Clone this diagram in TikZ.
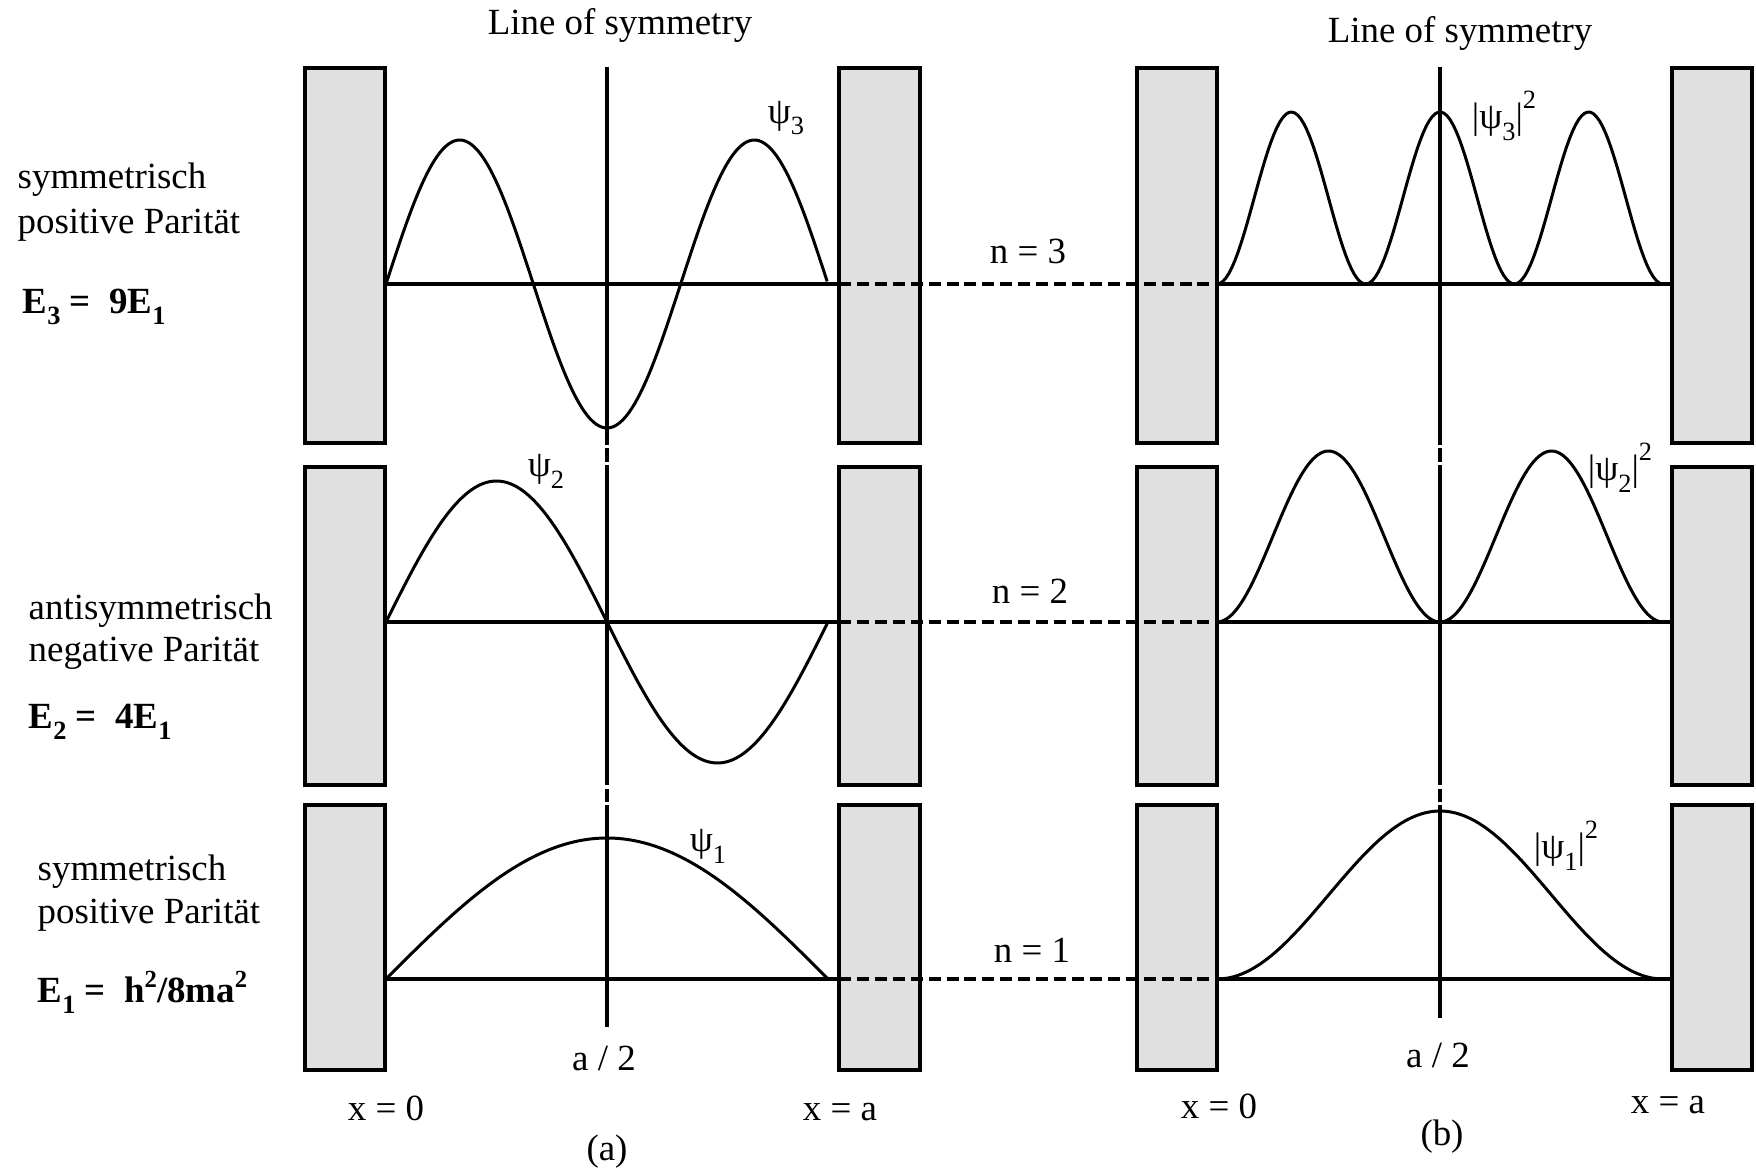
\documentclass[tikz,border=0pt]{standalone}
\usepackage{fontspec}
\setmainfont{Liberation Serif}
\usepackage{xcolor}
\usepackage{tikz}
\definecolor{wallc}{HTML}{E0E0E0}
\newcommand{\lowsub}[1]{\raisebox{-0.32em}{\fontsize{7.5}{8}\selectfont #1}}
\newcommand{\highsup}[1]{\raisebox{0.55em}{\fontsize{7.5}{8}\selectfont #1}}
\newcommand{\midsup}[1]{\raisebox{0.4em}{\fontsize{7}{8}\selectfont #1}}
\tikzset{
  wallbox/.style={draw=black, fill=wallc, line width=1.3pt},
  axisline/.style={draw=black, line width=1.1pt},
  levelline/.style={draw=black, line width=1.1pt, dash pattern=on 3.4pt off 1.7pt},
  symline/.style={draw=black, line width=1.1pt},
  wavecurve/.style={draw=black, line width=0.85pt, line join=round},
  labeltext/.style={inner sep=0pt, font=\fontsize{10.5}{12}\selectfont},
  edgetext/.style={labeltext, anchor=base west},
  energytext/.style={labeltext, anchor=base west, font=\fontsize{10.5}{12}\selectfont\bfseries},
}

\begin{document}
\begin{tikzpicture}[x=0.1mm, y=-0.1mm]
  \useasboundingbox (0,0) rectangle (1756,1171);
  \draw[wallbox] (305,68) rectangle (385,443);
  \draw[wallbox] (305,467) rectangle (385,785);
  \draw[wallbox] (305,805) rectangle (385,1070);
  \draw[wallbox] (839,68) rectangle (920,443);
  \draw[wallbox] (839,467) rectangle (920,785);
  \draw[wallbox] (839,805) rectangle (920,1070);
  \draw[wallbox] (1137,68) rectangle (1217,443);
  \draw[wallbox] (1137,467) rectangle (1217,785);
  \draw[wallbox] (1137,805) rectangle (1217,1070);
  \draw[wallbox] (1672,68) rectangle (1752,443);
  \draw[wallbox] (1672,467) rectangle (1752,785);
  \draw[wallbox] (1672,805) rectangle (1752,1070);

  \draw[symline] (607,67) -- (607,445);
  \draw[symline] (607,448) -- (607,462);
  \draw[symline] (607,465) -- (607,785);
  \draw[symline] (607,789) -- (607,802);
  \draw[symline] (607,805) -- (607,1027);
  \draw[symline] (1440,67) -- (1440,445);
  \draw[symline] (1440,448) -- (1440,462);
  \draw[symline] (1440,465) -- (1440,785);
  \draw[symline] (1440,789) -- (1440,802);
  \draw[symline] (1440,805) -- (1440,1018);

  \draw[axisline] (385,284) -- (839,284);
  \draw[axisline] (385,622) -- (839,622);
  \draw[axisline] (385,979) -- (839,979);
  \draw[axisline] (1217,284) -- (1672,284);
  \draw[axisline] (1217,622) -- (1672,622);
  \draw[axisline] (1217,979) -- (1672,979);
  \draw[levelline] (839,284) -- (1217,284);
  \draw[levelline] (839,622) -- (1217,622);
  \draw[levelline] (839,979) -- (1217,979);

  \draw[wavecurve] plot[domain=0:1, samples=150] ({386+442*\x}, {284-144*sin(540*\x)});
  \draw[wavecurve] plot[domain=0:1, samples=150] ({386+442*\x}, {622-141*sin(360*\x)});
  \draw[wavecurve] plot[domain=0:1, samples=150] ({386+442*\x}, {979-141*sin(180*\x)});
  \draw[wavecurve] plot[domain=0:1, samples=150] ({1217+446*\x}, {284-172*sin(540*\x)*sin(540*\x)});
  \draw[wavecurve] plot[domain=0:1, samples=150] ({1217+446*\x}, {622-171*sin(360*\x)*sin(360*\x)});
  \draw[wavecurve] plot[domain=0:1, samples=150] ({1217+446*\x}, {979-168*sin(180*\x)*sin(180*\x)});

  \node[labeltext, anchor=base] (symA) at (620,35) {Line of symmetry};
  \node[labeltext, anchor=base] (symB) at (1460,43) {Line of symmetry};

  \node[labeltext] (psiA3) at (786,118) {ψ\lowsub{3}};
  \node[labeltext] (psiA2) at (546,471) {ψ\lowsub{2}};
  \node[labeltext] (psiA1) at (708,846) {ψ\lowsub{1}};
  \node[labeltext] (psiB3) at (1504,116) {|ψ\lowsub{3}|\highsup{2}};
  \node[labeltext] (psiB2) at (1620,468) {|ψ\lowsub{2}|\highsup{2}};
  \node[labeltext] (psiB1) at (1566,846) {|ψ\lowsub{1}|\highsup{2}};

  \node[labeltext, anchor=base] (lvl3) at (1028,264) {n = 3};
  \node[labeltext, anchor=base] (lvl2) at (1030,603) {n = 2};
  \node[labeltext, anchor=base] (lvl1) at (1032,962) {n = 1};

  \node[edgetext] (par3a) at (17,189) {symmetrisch};
  \node[edgetext] (par3b) at (17,234) {positive Parität};
  \node[energytext] (en3) at (22,313) {E\lowsub{3} =\ \ 9E\lowsub{1}};
  \node[edgetext] (par2a) at (28,619) {antisymmetrisch};
  \node[edgetext] (par2b) at (28,661) {negative Parität};
  \node[energytext] (en2) at (28,728) {E\lowsub{2} =\ \ 4E\lowsub{1}};
  \node[edgetext] (par1a) at (37,880) {symmetrisch};
  \node[edgetext] (par1b) at (37,923) {positive Parität};
  \node[energytext] (en1) at (37,1002) {E\lowsub{1} =\ \ h\midsup{2}/8ma\midsup{2}};

  \node[labeltext, anchor=base] (midA) at (604,1070) {a / 2};
  \node[labeltext, anchor=base] (midB) at (1438,1067) {a / 2};
  \node[labeltext, anchor=base] (leftA) at (386,1120) {x = 0};
  \node[labeltext, anchor=base] (rightA) at (840,1120) {x = a};
  \node[labeltext, anchor=base] (leftB) at (1219,1118) {x = 0};
  \node[labeltext, anchor=base] (rightB) at (1668,1113) {x = a};
  \node[labeltext, anchor=base] (capA) at (607,1160) {(a)};
  \node[labeltext, anchor=base] (capB) at (1442,1145) {(b)};
\end{tikzpicture}
\end{document}
